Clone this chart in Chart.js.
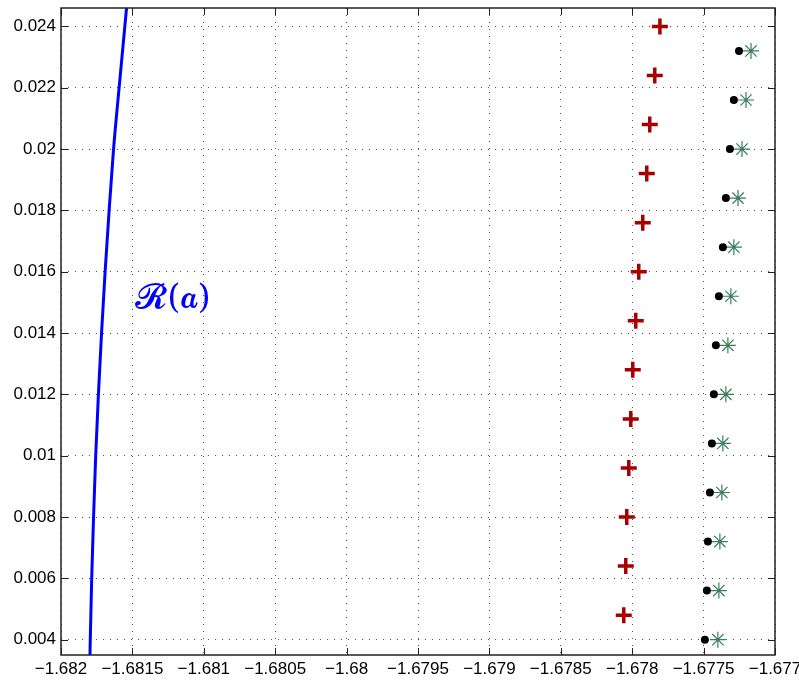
<!DOCTYPE html>
<html>
<head>
<meta charset="utf-8">
<script src="https://cdn.jsdelivr.net/npm/chart.js"></script>
<style>
  html, body { margin: 0; padding: 0; background: #fff; }
  #wrap { width: 799px; height: 683px; position: relative; }
</style>
</head>
<body>
<div id="wrap"><canvas id="rootChart"></canvas></div>
<script>
// ---- data ----
const xTicks = [-1.682, -1.6815, -1.681, -1.6805, -1.68, -1.6795, -1.679, -1.6785, -1.678, -1.6775, -1.677];
const xTickLabels = ["\u22121.682", "\u22121.6815", "\u22121.681", "\u22121.6805", "\u22121.68", "\u22121.6795",
                     "\u22121.679", "\u22121.6785", "\u22121.678", "\u22121.6775", "\u22121.677"];
const yTicks = [0.004, 0.006, 0.008, 0.010, 0.012, 0.014, 0.016, 0.018, 0.020, 0.022, 0.024];
const yTickLabels = ["0.004", "0.006", "0.008", "0.01", "0.012", "0.014", "0.016", "0.018", "0.02", "0.022", "0.024"];

// blue curve R(a)
const curveX = [-1.681797, -1.681795, -1.681785, -1.681772, -1.681757, -1.681738, -1.681716,
                -1.681691, -1.681663, -1.681632, -1.681593, -1.681553, -1.681541];
const curveY = [0.0035, 0.004, 0.006, 0.008, 0.010, 0.012, 0.014, 0.016, 0.018, 0.020, 0.022, 0.024, 0.0246];

// red plus markers
const plusX = [-1.678059, -1.678045, -1.678038, -1.678024, -1.678010, -1.677996, -1.677975,
               -1.677954, -1.677926, -1.677898, -1.677877, -1.677842, -1.677806];
const plusY = [0.0048, 0.0064, 0.0080, 0.0096, 0.0112, 0.0128, 0.0144, 0.0160, 0.0176, 0.0192, 0.0208, 0.0224, 0.0240];

// black dots
const dotX = [-1.677491, -1.677477, -1.677470, -1.677456, -1.677442, -1.677428, -1.677414,
              -1.677393, -1.677365, -1.677344, -1.677316, -1.677288, -1.677252];
const dotY = [0.0040, 0.0056, 0.0072, 0.0088, 0.0104, 0.0120, 0.0136, 0.0152, 0.0168, 0.0184, 0.0200, 0.0216, 0.0232];

// green stars
const starX = [-1.677400, -1.677393, -1.677386, -1.677372, -1.677365, -1.677344, -1.677330,
               -1.677309, -1.677288, -1.677259, -1.677231, -1.677203, -1.677168];
const starY = [0.0040, 0.0056, 0.0072, 0.0088, 0.0104, 0.0120, 0.0136, 0.0152, 0.0168, 0.0184, 0.0200, 0.0216, 0.0232];

const curveLabel = "\u{1D4E1}(\u{1D482})";
const curveLabelAt = { x: -1.681215, y: 0.01510 };

function pairs(xs, ys) {
    return xs.map((x, i) => ({ x: x, y: ys[i] }));
}

// box around the axes with inward ticks, plus the curve label
const matlabAxes = {
    id: "matlabAxes",
    afterDatasetsDraw(chart) {
        const { ctx, chartArea: a, scales: { x, y } } = chart;
        ctx.save();
        ctx.strokeStyle = "#222";
        ctx.lineWidth = 1;
        const tl = 7;
        ctx.beginPath();
        xTicks.forEach(v => {
            const px = Math.round(x.getPixelForValue(v)) + 0.5;
            ctx.moveTo(px, a.bottom); ctx.lineTo(px, a.bottom - tl);
            ctx.moveTo(px, a.top); ctx.lineTo(px, a.top + tl);
        });
        yTicks.forEach(v => {
            const py = Math.round(y.getPixelForValue(v)) + 0.5;
            ctx.moveTo(a.left, py); ctx.lineTo(a.left + tl, py);
            ctx.moveTo(a.right, py); ctx.lineTo(a.right - tl, py);
        });
        ctx.stroke();
        ctx.lineWidth = 1.5;
        ctx.strokeRect(Math.round(a.left), Math.round(a.top), Math.round(a.right - a.left), Math.round(a.bottom - a.top));

        ctx.fillStyle = "#0000ff";
        ctx.font = "34px 'DejaVu Serif', serif";
        ctx.textAlign = "center";
        ctx.textBaseline = "middle";
        ctx.fillText(curveLabel, x.getPixelForValue(curveLabelAt.x), y.getPixelForValue(curveLabelAt.y));
        ctx.restore();
    }
};

document.addEventListener("DOMContentLoaded", function () {

    Chart.defaults.font.family = "'Liberation Sans', Arial, sans-serif";
    Chart.defaults.color = "#000";

    new Chart(document.getElementById("rootChart"), {
        type: "scatter",
        data: {
            datasets: [
                {
                    label: "R(a)",
                    data: pairs(curveX, curveY),
                    showLine: true,
                    borderColor: "#0000ff",
                    borderWidth: 3,
                    pointRadius: 0,
                    cubicInterpolationMode: "monotone"
                },
                {
                    label: "plus",
                    data: pairs(plusX, plusY),
                    pointStyle: "cross",
                    pointRadius: 8,
                    borderWidth: 3.5,
                    borderColor: "#a80000",
                    backgroundColor: "#a80000"
                },
                {
                    label: "dots",
                    data: pairs(dotX, dotY),
                    pointStyle: "circle",
                    pointRadius: 4,
                    borderWidth: 0,
                    backgroundColor: "#000"
                },
                {
                    label: "stars",
                    data: pairs(starX, starY),
                    pointStyle: "star",
                    pointRadius: 8,
                    borderWidth: 1.2,
                    borderColor: "#3a7d5c",
                    backgroundColor: "#3a7d5c"
                }
            ]
        },
        options: {
            responsive: true,
            maintainAspectRatio: false,
            animation: false,
            layout: { autoPadding: false, padding: { left: 0, right: 24, top: 8, bottom: 0 } },
            plugins: {
                legend: { display: false },
                tooltip: { enabled: false }
            },
            scales: {
                x: {
                    type: "linear",
                    min: -1.682,
                    max: -1.677,
                    afterBuildTicks: s => { s.ticks = xTicks.map(v => ({ value: v })); },
                    afterFit: s => { s.height = 28; s.paddingLeft = 0; s.paddingRight = 0; },
                    ticks: {
                        padding: 4,
                        maxRotation: 0,
                        font: { size: 17 },
                        callback: (v, i) => xTickLabels[i]
                    },
                    grid: { color: "#555", lineWidth: 1, drawTicks: false },
                    border: { display: false, dash: [1, 6] }
                },
                y: {
                    type: "linear",
                    min: 0.0035,
                    max: 0.0246,
                    afterBuildTicks: s => { s.ticks = yTicks.map(v => ({ value: v })); },
                    afterFit: s => { s.width = 61; s.paddingTop = 0; s.paddingBottom = 0; },
                    ticks: {
                        padding: 5,
                        font: { size: 17 },
                        callback: (v, i) => yTickLabels[i]
                    },
                    grid: { color: "#555", lineWidth: 1, drawTicks: false },
                    border: { display: false, dash: [1, 6] }
                }
            }
        },
        plugins: [matlabAxes]
    });

});
</script>
</body>
</html>
